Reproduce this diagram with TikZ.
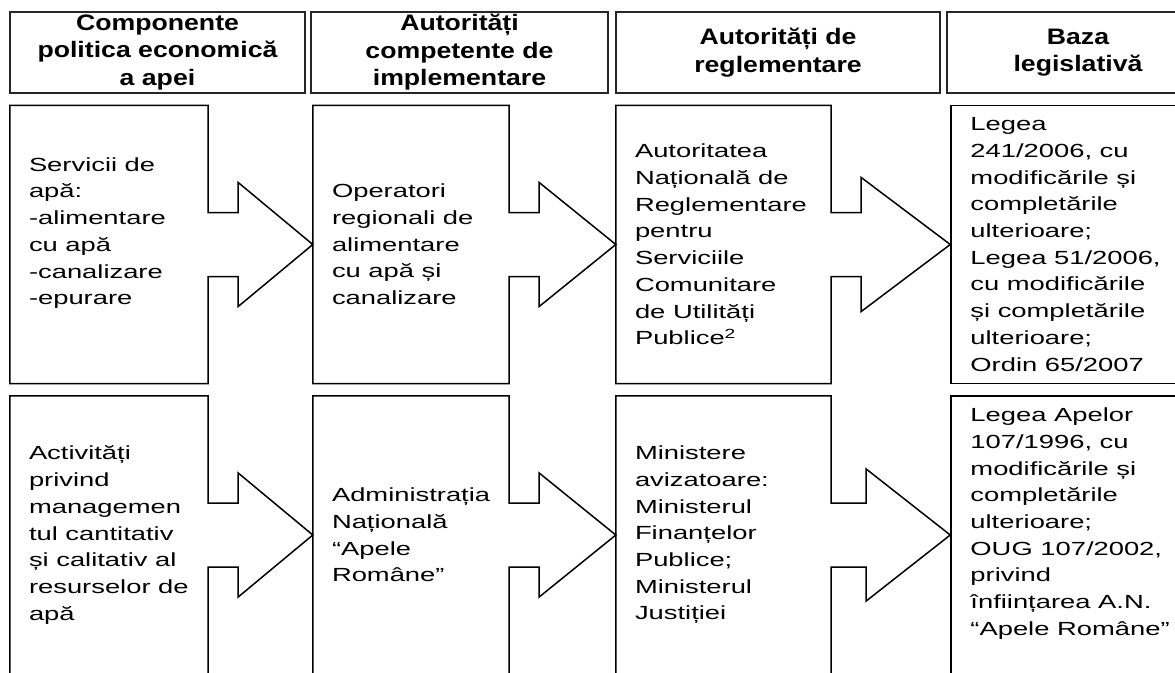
\documentclass[tikz,border=0pt]{standalone}
\usepackage{fontspec}
\setmainfont{Liberation Sans}
\newfontfamily\bodyfont{Liberation Sans}[FakeStretch=1.44]
\newfontfamily\headfont{Liberation Sans}[FakeStretch=1.19]
\usetikzlibrary{positioning,calc}

\begin{document}
\begin{tikzpicture}[
  x=1pt, y=-1pt,
  head/.style={draw=black!85, line width=1.4pt, align=center, minimum height=81pt, inner sep=0pt, font=\headfont\bfseries\fontsize{22.4}{27.5}\selectfont},
  cell/.style={rectangle, inner sep=0pt, minimum height=278pt},
  txt/.style={align=left, inner sep=0pt, font=\bodyfont\fontsize{19}{26.7}\selectfont},
  law/.style={cell, draw, line width=1.5pt, minimum width=260pt},
  blk/.style 2 args={line width=1.5pt, to path={(\tikztostart.south west) -- (\tikztostart.north west) -- (\tikztostart.north east) -- ($(\tikztostart.east)+(0,-32)$) -- ++(#1,0) -- ++(0,-#2+32) -- (\tikztotarget.west) -- ($(\tikztostart.east)+(#1,#2)$) -- ++(0,-#2+32) -- ($(\tikztostart.east)+(0,32)$) -- (\tikztostart.south east) -- cycle}}
]
\useasboundingbox (0,0) rectangle (1175,672);
\clip (0,0) rectangle (1175,672);

\node[head, minimum width=295pt] (h1) at (157.5,52.5) {Componente\\politica economică\\a apei};
\node[head, minimum width=297pt] (h2) at (459.5,52.5) {Autorități\\competente de\\implementare};
\node[head, minimum width=324pt] (h3) at (778,52.5) {Autorități de\\reglementare};
\node[head, minimum width=262pt] (h4) at (1078,52.5) {Baza\\legislativă};

\node[cell, minimum width=198pt] (s1) at (109,244.5) {};
\node[cell, minimum width=196pt] (o1) at (411,244.5) {};
\node[cell, minimum width=215pt] (r1) at (723.5,244.5) {};
\node[law] (l1) at (1081,244.5) {};
\node[cell, minimum width=198pt] (s2) at (109,535) {};
\node[cell, minimum width=196pt] (o2) at (411,535) {};
\node[cell, minimum width=215pt] (r2) at (723.5,535) {};
\node[law] (l2) at (1081,535) {};

\node[txt, right=19pt of s1.west] (s1t) {Servicii de\\apă:\\-alimentare\\cu apă\\-canalizare\\-epurare\\\mbox{}};
\node[txt, right=19pt of o1.west] (o1t) {Operatori\\regionali de\\alimentare\\cu apă și\\canalizare};
\node[txt, right=19pt of r1.west] (r1t) {Autoritatea\\Națională de\\Reglementare\\pentru\\Serviciile\\Comunitare\\de Utilități\\Publice\textsuperscript{2}};
\node[txt, right=20pt of l1.west] (l1t) {Legea\\241/2006, cu\\modificările și\\completările\\ulterioare;\\Legea 51/2006,\\cu modificările\\și completările\\ulterioare;\\Ordin 65/2007};
\node[txt, right=19pt of s2.west] (s2t) {Activități\\privind\\managemen\\tul cantitativ\\și calitativ al\\resurselor de\\apă};
\node[txt, right=19pt of o2.west] (o2t) {Administrația\\Națională\\“Apele\\Române”};
\node[txt, right=19pt of r2.west] (r2t) {Ministere\\avizatoare:\\Ministerul\\Finanțelor\\Publice;\\Ministerul\\Justiției};
\node[txt, right=20pt of l2.west] (l2t) {Legea Apelor\\107/1996, cu\\modificările și\\completările\\ulterioare;\\OUG 107/2002,\\privind\\înființarea A.N.\\“Apele Române”\\\mbox{}};

\draw[blk={30}{62}] (s1) to (o1);
\draw[blk={30}{62}] (o1) to (r1);
\draw[blk={30}{67}] (r1) to (l1);
\draw[blk={30}{62}] (s2) to (o2);
\draw[blk={30}{62}] (o2) to (r2);
\draw[blk={35}{66}] (r2) to (l2);
\end{tikzpicture}
\end{document}
